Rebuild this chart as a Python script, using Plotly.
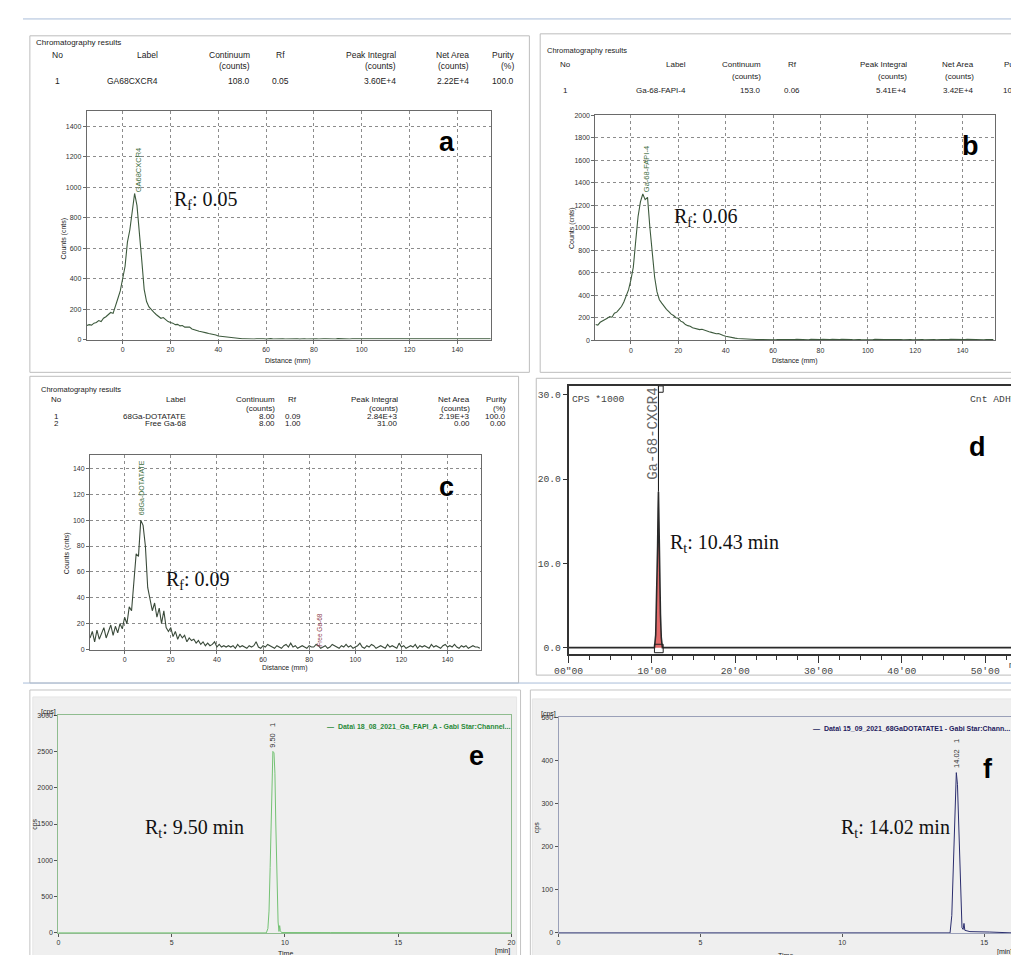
import plotly.graph_objects as go

W, H = 1019, 955

# ---------------- data ----------------
# (a) radio-TLC of Ga-68-CXCR4
dist_a = list(range(-15, 155))
counts_a = ([92, 98, 95, 108, 112, 125, 118, 140, 150, 165, 178, 172, 215, 270, 320]
            + [400, 480, 640, 720, 840, 960, 880, 720, 520, 330, 250, 215, 195, 180, 165, 150, 140, 145,
               128, 118, 112, 108, 98, 100, 90, 92, 82, 80, 82, 70, 64, 60, 55, 52, 46, 44, 40, 38, 33,
               30, 24, 22, 21, 17, 14, 13, 10, 9, 7, 6, 5]
            + [5, 4, 6, 5, 4, 5, 6, 4, 5, 3, 5, 6, 4, 5, 4, 6, 5, 4, 5, 6, 4, 5, 5, 3, 6, 5, 4, 5, 6, 4,
               5, 4, 6, 5, 5, 4, 7, 5, 4, 6, 5, 4, 5, 6, 4, 5, 5, 4, 6, 5, 4, 5, 6, 5, 4, 5, 7, 5, 4, 6,
               5, 4, 5, 5, 6, 4, 5, 6, 5, 4, 6, 5, 4, 5, 6, 5, 4, 5, 6, 5, 4, 6, 5, 4, 5, 7, 6, 5, 4, 6,
               5, 5, 4, 6, 5, 7, 5, 4, 6, 5, 5, 6, 4, 5])
# (b) radio-TLC of Ga-68-FAPI-4
dist_b = list(range(-15, 154))
counts_b = ([140, 135, 160, 170, 182, 195, 210, 205, 240, 250, 275, 300, 340, 390, 450]
            + [540, 650, 880, 1100, 1230, 1300, 1250, 1270, 1000, 760, 560, 430, 360, 330, 300, 275, 255,
               232, 220, 200, 195, 170, 160, 140, 130, 125, 112, 105, 100, 95, 98, 88, 85, 75, 70, 62, 58,
               60, 48, 42, 36, 30, 26, 22, 19, 16, 14, 13, 12, 10, 9, 8, 8, 7, 7, 6]
            + [6, 7, 5, 8, 6, 5, 7, 6, 8, 5, 6, 7, 5, 6, 8, 7, 5, 6, 7, 5, 8, 6, 5, 7, 6, 9, 7, 5, 6, 8,
               6, 5, 7, 8, 6, 5, 7, 6, 5, 8, 7, 6, 5, 7, 8, 6, 5, 9, 7, 6, 5, 7, 6, 8, 5, 6, 7, 9, 6, 5,
               7, 8, 6, 5, 7, 6, 8, 7, 5, 6, 9, 7, 6, 5, 8, 6, 7, 5, 6, 8, 7, 6, 5, 7, 9, 6, 8, 7, 6, 5,
               7, 8, 6, 5, 7, 6, 8, 7])
# (c) radio-TLC of 68Ga-DOTATATE
dist_c = list(range(-15, 155))
counts_c = ([9, 14, 6, 15, 8, 12, 17, 9, 14, 19, 11, 18, 13, 20, 16]
            + [25, 20, 33, 30, 50, 74, 72, 100, 96, 80, 48, 40, 30, 36, 25, 32, 20, 30, 17, 14, 17, 10,
               14, 8, 12, 9, 11, 6, 9, 7, 8, 5, 7, 4, 6, 3, 5, 3, 4, 6, 2, 4, 2, 3, 2, 3]
            + [2, 3, 1, 4, 2, 3, 2, 1, 3, 2, 3, 6, 2, 1, 3, 2, 4, 3, 2, 1, 3, 2, 1, 3, 4, 2, 5, 2, 3, 1,
               2, 3, 2, 1, 3, 2, 2, 4, 3, 1, 2, 3, 1, 2, 4, 3, 2, 1, 3, 2, 4, 2, 3, 1, 2, 3, 5, 2, 1, 3,
               2, 4, 3, 1, 2, 3, 2, 1, 4, 2, 3, 2, 1, 5, 2, 3, 1, 2, 3, 2, 4, 1, 3, 2, 3, 2, 1, 4, 2, 3,
               2, 1, 3, 4, 2, 3, 2, 4, 2, 1, 3, 2, 3, 1, 2, 3, 2, 2, 1])
# (d) radio-HPLC Ga-68-CXCR4 (CPS x1000 vs min)
time_d = [0.0, 10.30, 10.45, 10.58, 10.68, 10.74, 10.78, 10.84, 10.92, 11.02, 11.12, 11.25, 60.0]
cps_d = [0.0, 0.0, 1.5, 6.0, 12.0, 16.5, 18.5, 15.0, 9.0, 4.0, 1.2, 0.0, 0.0]
d_tick_vals = [0, 10, 20, 30, 40, 50]
d_tick_text = ['00"00', "10'00", "20'00", "30'00", "40'00", "50'00"]
d_ytick_vals = [0, 10, 20, 30]
d_ytick_text = ["0.0", "10.0", "20.0", "30.0"]
# (e) radio-HPLC Ga-FAPI
time_e = [0, 8.5, 9.18, 9.25, 9.30, 9.35, 9.40, 9.44, 9.47, 9.52, 9.56, 9.60, 9.65, 9.70, 9.74, 9.77,
          9.80, 9.85, 12.0, 20.0]
cps_e = [0, 3, 0, 60, 300, 900, 1800, 2350, 2500, 2480, 2200, 1500, 700, 150, 20, 100, 30, 5, 4, 0]
# (f) radio-HPLC 68Ga-DOTATATE
time_f = [0, 8.5, 13.80, 13.86, 13.90, 13.94, 13.98, 14.02, 14.06, 14.10, 14.14, 14.18, 14.22, 14.26,
          14.29, 14.32, 14.5, 15.2, 16.0]
cps_f = [0, 1, 0, 40, 130, 250, 340, 372, 345, 260, 140, 50, 12, 8, 22, 6, 3, 2, 0]

# result tables
header_cols = ["No", "Label", "Continuum", "Rf", "Peak Integral", "Net Area", "Purity"]
header_units = ["", "", "(counts)", "", "(counts)", "(counts)", "(%)"]
table_a = [["1", "GA68CXCR4", "108.0", "0.05", "3.60E+4", "2.22E+4", "100.0"]]
table_b = [["1", "Ga-68-FAPI-4", "153.0", "0.06", "5.41E+4", "3.42E+4", "100.0"]]
table_c = [["1", "68Ga-DOTATATE", "8.00", "0.09", "2.84E+3", "2.19E+3", "100.0"],
           ["2", "Free Ga-68", "8.00", "1.00", "31.00", "0.00", "0.00"]]

# ---------------- helpers ----------------
def px(x):
    return x / W


def py(y):
    return 1 - y / H


def dom_x(a, b):
    return [a / W, b / W]


def dom_y(top, bottom):
    return [1 - bottom / H, 1 - top / H]


fig = go.Figure()

SANS = "Liberation Sans"
SERIF = "Liberation Serif"
MONO = "Liberation Mono"


def txt(x, y, s, size=8, xanchor="left", yanchor="middle", color="#222", family=SANS, angle=0):
    fig.add_annotation(x=px(x), y=py(y), xref="paper", yref="paper", text=s, showarrow=False,
                       xanchor=xanchor, yanchor=yanchor, textangle=angle,
                       font=dict(family=family, size=size, color=color), borderpad=0)


def dtxt(xr, yr, x, y, s, size=8, xanchor="center", yanchor="bottom", color="#333", family=SANS, angle=0):
    fig.add_annotation(x=x, y=y, xref=xr, yref=yr, text=s, showarrow=False, xanchor=xanchor,
                       yanchor=yanchor, textangle=angle, borderpad=0,
                       font=dict(family=family, size=size, color=color))


def rect(x0, y0, x1, y1, color="#bdbdbd", fill=None, width=1):
    fig.add_shape(type="rect", xref="paper", yref="paper", x0=px(x0), x1=px(x1), y0=py(y0), y1=py(y1),
                  line=dict(color=color, width=width), fillcolor=fill if fill else "rgba(0,0,0,0)",
                  layer="below")


def hline(y, x0, x1, color="#a9bdd9", width=1):
    fig.add_shape(type="line", xref="paper", yref="paper", x0=px(x0), x1=px(x1), y0=py(y), y1=py(y),
                  line=dict(color=color, width=width), layer="below")


# ---------------- panel frames ----------------
hline(7, 0, W)
rect(7, 24, 516, 363)
rect(527, 22, 1030, 363)
rect(7, 367, 505, 676)
rect(523, 369, 1030, 668)
hline(676, 0, W)
rect(7, 683, 507, 965, color="#c4c4c4")
rect(10, 690, 503, 965, color="#e6e6e6", fill="#efefef")
rect(517, 683, 1030, 965, color="#c4c4c4")
rect(519, 692, 1030, 965, color="#e6e6e6", fill="#efefef")

# ---------------- traces ----------------
TLC_LINE = "#3d5a3d"
fig.add_trace(go.Scatter(x=dist_a, y=counts_a, mode="lines", line=dict(color=TLC_LINE, width=1.1),
                         xaxis="x", yaxis="y", hoverinfo="skip", showlegend=False))
fig.add_trace(go.Scatter(x=dist_b, y=counts_b, mode="lines", line=dict(color=TLC_LINE, width=1.1),
                         xaxis="x2", yaxis="y2", hoverinfo="skip", showlegend=False))
fig.add_trace(go.Scatter(x=dist_c, y=counts_c, mode="lines", line=dict(color="#3a4a3a", width=1.1),
                         xaxis="x3", yaxis="y3", hoverinfo="skip", showlegend=False))
fig.add_trace(go.Scatter(x=time_d, y=cps_d, mode="lines", fill="tozeroy", fillcolor="#e26a6a",
                         line=dict(color="#2a2a2a", width=1.6),
                         xaxis="x4", yaxis="y4", hoverinfo="skip", showlegend=False))
fig.add_trace(go.Scatter(x=time_e, y=cps_e, mode="lines", line=dict(color="#74c274", width=1),
                         xaxis="x5", yaxis="y5", hoverinfo="skip", showlegend=False))
fig.add_trace(go.Scatter(x=time_f, y=cps_f, mode="lines", line=dict(color="#2b2e6e", width=1),
                         xaxis="x6", yaxis="y6", hoverinfo="skip", showlegend=False))

# ---------------- axes ----------------
tick_font = dict(family=SANS, size=7, color="#333")


def tlc_axes(xdom, ydom, xr, yr, ydt, anchor_x, anchor_y):
    common = dict(showgrid=True, gridcolor="#8c8c8c", griddash="dot", gridwidth=1, showline=True,
                  linecolor="#6a6a6a", linewidth=1, mirror=True, ticks="outside", ticklen=3,
                  tickcolor="#6a6a6a", tickfont=tick_font, zeroline=False, fixedrange=True)
    xa = dict(domain=xdom, range=xr, tickmode="linear", tick0=0, dtick=20, anchor=anchor_y, **common)
    ya = dict(domain=ydom, range=yr, tickmode="linear", tick0=0, dtick=ydt, anchor=anchor_x, **common)
    return xa, ya


xa1, ya1 = tlc_axes(dom_x(65, 476.7), dom_y(100, 330), [-15, 154], [0, 1500], 200, "x", "y")
xa2, ya2 = tlc_axes(dom_x(583.3, 990), dom_y(104, 330.7), [-15, 153.5], [0, 2000], 200, "x2", "y2")
xa3, ya3 = tlc_axes(dom_x(68.3, 466.7), dom_y(446.7, 642.3), [-15, 154.5], [0, 150], 20, "x3", "y3")

mono_font = dict(family=MONO, size=9.7, color="#444")
xa4 = dict(domain=dom_x(556, 1017), range=[0, 54.3], anchor="y4", tickmode="array",
           tickvals=d_tick_vals, ticktext=d_tick_text, ticks="outside", ticklen=7, tickwidth=1.2,
           tickcolor="#333", minor=dict(tickmode="linear", tick0=0, dtick=2.5, ticks="outside",
                                        ticklen=4, tickcolor="#333"),
           showline=True, linecolor="#333", linewidth=1.5, mirror=True, showgrid=False,
           zeroline=False, tickfont=mono_font, fixedrange=True)
ya4 = dict(domain=dom_y(376.7, 646.7), range=[-0.75, 31.05], anchor="x4", tickmode="array",
           tickvals=d_ytick_vals, ticktext=d_ytick_text, ticks="outside", ticklen=4, tickcolor="#333",
           showline=True, linecolor="#333", linewidth=1.5, mirror=True, showgrid=False,
           zeroline=False, tickfont=mono_font, fixedrange=True)


def hplc_axes(xdom, ydom, xr, yr, xdt, ydt, frame, ax, ay):
    common = dict(showline=True, linecolor=frame, linewidth=1, mirror=True, ticks="outside",
                  ticklen=3, tickcolor="#555", tickfont=tick_font, showgrid=False, zeroline=False,
                  fixedrange=True)
    xa = dict(domain=xdom, range=xr, tickmode="linear", tick0=0, dtick=xdt, anchor=ay, **common)
    ya = dict(domain=ydom, range=yr, tickmode="linear", tick0=0, dtick=ydt, anchor=ax, **common)
    return xa, ya


xa5, ya5 = hplc_axes(dom_x(36, 497.7), dom_y(708.3, 927.7), [0, 20], [0, 3000], 5, 500,
                     "#8fbc8f", "x5", "y5")
xa6, ya6 = hplc_axes(dom_x(545.7, 1008.3), dom_y(710.7, 927.7), [0, 16], [0, 500], 5, 100,
                     "#9aa0b8", "x6", "y6")

fig.update_layout(xaxis=xa1, yaxis=ya1, xaxis2=xa2, yaxis2=ya2, xaxis3=xa3, yaxis3=ya3,
                  xaxis4=xa4, yaxis4=ya4, xaxis5=xa5, yaxis5=ya5, xaxis6=xa6, yaxis6=ya6)

# ---------------- tables ----------------
def table(title_xy, col_x, anchors, rows_y, h1, h2, rows, size):
    txt(title_xy[0], title_xy[1], "Chromatography results", size=size - 0.5)
    for cx, an, head, unit in zip(col_x, anchors, header_cols, header_units):
        txt(cx, h1, head, size=size, xanchor=an)
        if unit:
            txt(cx, h2, unit, size=size, xanchor=an)
    for ry, row in zip(rows_y, rows):
        for cx, an, val in zip(col_x, anchors, row):
            txt(cx, ry, val, size=size, xanchor=an)


anch = ["center", "right", "right", "center", "right", "right", "right"]
table((12, 31), [35, 139, 232, 262, 381, 455, 501], anch, [70], 43, 54, table_a, 8.5)
table((533, 39), [553, 677, 753, 784, 902, 970, 1021], anch, [79], 53, 65, table_b, 8)
table((17, 380), [34, 167, 258, 275, 383, 457, 493], anch, [407, 415], 390, 399, table_c, 8)

# ---------------- axis titles ----------------
small = 7
txt(270, 352, "Distance (mm)", size=small, xanchor="center")
txt(42, 228, "Counts (cnts)", size=small, xanchor="center", angle=-90)
txt(787, 352, "Distance (mm)", size=small, xanchor="center")
txt(560, 218, "Counts (cnts)", size=small, xanchor="center", angle=-90)
txt(267, 661, "Distance (mm)", size=small, xanchor="center")
txt(45, 545, "Counts (cnts)", size=small, xanchor="center", angle=-90)

txt(267, 948, "Time", size=small, xanchor="center")
txt(489, 946, "[min]", size=small, xanchor="center")
txt(12, 818, "cps", size=small, xanchor="center", angle=-90)
txt(26, 705, "[cps]", size=small, xanchor="center")
txt(777, 950, "Time", size=small, xanchor="center")
txt(1000, 947, "[min]", size=small, xanchor="center")
txt(524, 822, "cps", size=small, xanchor="center", angle=-90)
txt(535, 707, "[cps]", size=small, xanchor="center")

# ---------------- peak labels ----------------
dtxt("x", "y", 7.0, 960, "GA68CXCR4", size=7.5, color="#3f6f3f", angle=-90)
dtxt("x2", "y2", 6.9, 1310, "Ga-68-FAPI-4", size=7.5, color="#3f6f3f", angle=-90)
dtxt("x3", "y3", 7.3, 103, "68Ga-DOTATATE", size=7, color="#3f6f3f", angle=-90)
dtxt("x3", "y3", 84.5, 1, "Free Ga-68", size=6.5, color="#8b3a4a", angle=-90)

apex_d = cps_d.index(max(cps_d))
fig.add_shape(type="line", xref="x4", yref="y4", x0=time_d[apex_d], x1=time_d[apex_d],
              y0=cps_d[apex_d], y1=31.05, line=dict(color="#111", width=1))
fig.add_shape(type="rect", xref="x4", yref="y4", x0=time_d[1], x1=time_d[-2] + 0.1, y0=-0.6, y1=0.4,
              line=dict(color="#222", width=1))
fig.add_shape(type="rect", xref="x4", yref="y4", x0=time_d[apex_d], x1=time_d[-2] + 0.1, y0=30.3,
              y1=31.05, line=dict(color="#222", width=1))
dtxt("x4", "y4", time_d[1] - 0.1, 30.9, "Ga-68-CXCR4", size=14, color="#666", family=MONO, angle=-90,
     yanchor="top")
txt(558, 390, "CPS *1000", size=9.7, color="#444", family=MONO)
txt(964, 390, "Cnt ADHV-2", size=9.7, color="#444", family=MONO)
txt(1004, 658, "min", size=9.7, color="#444", family=MONO)

apex_e = cps_e.index(max(cps_e))
dtxt("x5", "y5", time_e[apex_e], cps_e[apex_e] + 40, "9.50   1", size=7.5, color="#333", angle=-90)
apex_f = cps_f.index(max(cps_f))
dtxt("x6", "y6", time_f[apex_f], cps_f[apex_f] + 8, "14.02   1", size=7.5, color="#333", angle=-90)

txt(497, 720, "<b>—  Data\\ 18_08_2021_Ga_FAPI_A - Gabi Star:Channel...</b>", size=7, xanchor="right",
    color="#2a8a3a")
txt(1007, 722, "<b>—  Data\\ 15_09_2021_68GaDOTATATE1 - Gabi Star:Chann...</b>", size=7,
    xanchor="right", color="#1e2160")

# ---------------- R values ----------------
RS = 20
txt(153, 190, "R<sub>f</sub>: 0.05", size=RS, family=SERIF, color="#111")
txt(662, 207, "R<sub>f</sub>: 0.06", size=RS, family=SERIF, color="#111")
txt(145, 573, "R<sub>f</sub>: 0.09", size=RS, family=SERIF, color="#111")
txt(658, 535, "R<sub>t</sub>: 10.43 min", size=RS, family=SERIF, color="#111")
txt(123, 823, "R<sub>t</sub>: 9.50 min", size=RS, family=SERIF, color="#111")
txt(833, 823, "R<sub>t</sub>: 14.02 min", size=RS, family=SERIF, color="#111")

# ---------------- panel letters ----------------
for (lx, ly, s) in [(432, 131, "a"), (966, 135, "b"), (432, 479, "c"), (973, 438, "d"),
                    (462, 749, "e"), (983, 763, "f")]:
    txt(lx, ly, "<b>%s</b>" % s, size=27, xanchor="center", color="#000")

fig.update_layout(width=W, height=H, autosize=False, margin=dict(l=0, r=0, t=0, b=0),
                  paper_bgcolor="white", plot_bgcolor="white", showlegend=False)

fig.write_html("out.html", config={"displayModeBar": False})
